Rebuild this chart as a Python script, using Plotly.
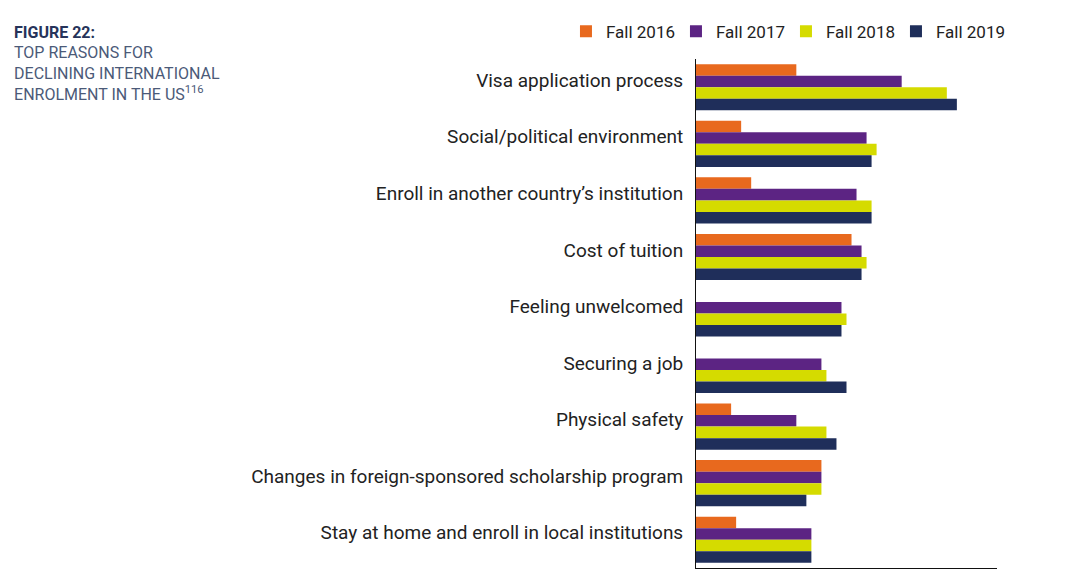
import plotly.graph_objects as go

categories = [
    "Visa application process",
    "Social/political environment",
    "Enroll in another country\u2019s institution",
    "Cost of tuition",
    "Feeling unwelcomed",
    "Securing a job",
    "Physical safety",
    "Changes in foreign-sponsored scholarship program",
    "Stay at home and enroll in local institutions",
]
series_names = ["Fall 2016", "Fall 2017", "Fall 2018", "Fall 2019"]
fall_2016 = [20, 9, 11, 31, None, None, 7, 25, 8]
fall_2017 = [41, 34, 32, 33, 29, 25, 20, 25, 23]
fall_2018 = [50, 36, 35, 34, 30, 26, 26, 25, 23]
fall_2019 = [52, 35, 35, 33, 29, 30, 28, 22, 23]
colors = ["#E8691E", "#5C2483", "#D5DB00", "#1F2E5A"]

fig = go.Figure()
for name, vals, col in zip(series_names, [fall_2016, fall_2017, fall_2018, fall_2019], colors):
    fig.add_trace(go.Bar(y=categories, x=vals, name=name, orientation="h",
                         marker=dict(color=col, line=dict(width=0))))

FONT = "Roboto"
fig.update_layout(
    width=1080, height=570,
    margin=dict(l=696, r=83, t=59, b=2, autoexpand=False),
    paper_bgcolor="white", plot_bgcolor="white",
    barmode="group", bargap=0.185, bargroupgap=0,
    font=dict(family=FONT, color="#222222"),
    title=dict(
        text="<b>FIGURE 22:</b><br><span style='color:#4B5A78'>TOP REASONS FOR<br>DECLINING INTERNATIONAL<br>ENROLMENT IN THE US<sup>116</sup></span>",
        xref="container", yref="container", x=0.013, y=0.934, xanchor="left", yanchor="top",
        font=dict(family=FONT, size=16, color="#26335A"),
    ),
    legend=dict(orientation="h", xref="paper", yref="paper", x=-0.432, y=1.089,
                xanchor="left", yanchor="top", font=dict(family=FONT, size=17, color="#222222"),
                traceorder="normal", itemwidth=30, entrywidth=65, entrywidthmode="pixels"),
    xaxis=dict(range=[0, 60], showticklabels=False, ticks="", showgrid=False, zeroline=False,
               showline=True, linecolor="#111111", linewidth=1),
    yaxis=dict(autorange="reversed", showgrid=False, zeroline=False, showline=True,
               linecolor="#111111", linewidth=1, ticks="", ticklabelstandoff=8,
               ticklabelshift=7,
               tickfont=dict(family=FONT, size=19, color="#222222")),
)
fig.write_html("out.html")
